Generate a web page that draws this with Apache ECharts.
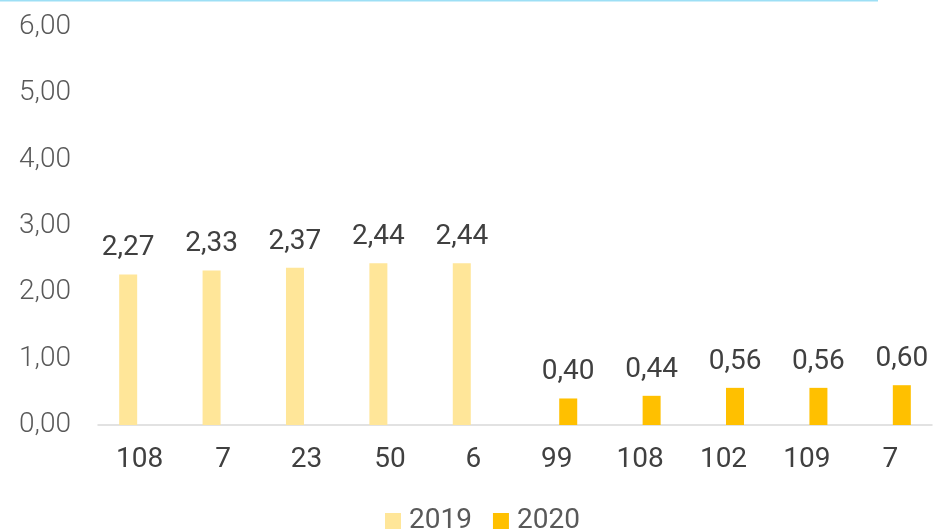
<!DOCTYPE html>
<html>
<head>
<meta charset="utf-8">
<script src="https://cdn.jsdelivr.net/npm/echarts@6/dist/echarts.min.js"></script>
<style>
  html, body { margin: 0; padding: 0; background: #fff; }
  #chart { width: 934px; height: 531px; }
</style>
</head>
<body>
<div id="chart"></div>
<script>
const categories = ["108", "7", "23", "50", "6", "99", "108", "102", "109", "7"];
const values2019 = [2.27, 2.33, 2.37, 2.44, 2.44, null, null, null, null, null];
const values2020 = [null, null, null, null, null, 0.40, 0.44, 0.56, 0.56, 0.60];
const yTicks = [0, 1, 2, 3, 4, 5, 6];

const fmt = (v) => v.toFixed(2).replace(".", ",");

const chart = echarts.init(document.getElementById("chart"));

// value labels above each bar
const labelStyle = {
  show: true,
  position: "top",
  distance: 12,
  fontFamily: "Roboto",
  fontSize: 28,
  color: "#404040",
  formatter: (p) => fmt(p.value),
};

chart.setOption({
  animation: false,
  textStyle: { fontFamily: "Roboto" },
  graphic: [
    { type: "rect", shape: { x: 0, y: 0, width: 878, height: 1.5 }, style: { fill: "#9ddff5" } },
  ],
  legend: {
    top: 502,
    left: 380,
    itemWidth: 16,
    itemHeight: 16,
    itemGap: 21,
    icon: "rect",
    textStyle: { fontFamily: "Roboto", fontSize: 28, color: "#595959", padding: [0, 0, 0, 3] },
    data: ["2019", "2020"],
  },
  grid: { left: 98, right: 2, top: 27, bottom: 106 },
  xAxis: {
    type: "category",
    data: categories,
    axisTick: { show: false },
    axisLine: { lineStyle: { color: "#d9d9d9", width: 1.5 } },
    axisLabel: { fontFamily: "Roboto", fontSize: 28, color: "#404040", margin: 21 },
  },
  yAxis: {
    type: "value",
    min: yTicks[0],
    max: yTicks[yTicks.length - 1],
    interval: 1,
    splitLine: { show: false },
    axisLine: { show: false },
    axisTick: { show: false },
    axisLabel: {
      fontFamily: "Roboto",
      fontWeight: 300,
      fontSize: 28,
      color: "#595959",
      margin: 27,
      padding: [6, 0, 0, 0],
      formatter: (v) => fmt(v),
    },
  },
  series: [
    {
      name: "2019",
      type: "bar",
      barWidth: 18,
      barGap: "28%",
      data: values2019,
      itemStyle: { color: "#ffe699" },
      label: labelStyle,
    },
    {
      name: "2020",
      type: "bar",
      barWidth: 18,
      barGap: "28%",
      data: values2020,
      itemStyle: { color: "#ffc000" },
      label: labelStyle,
    },
  ],
});
</script>
</body>
</html>
